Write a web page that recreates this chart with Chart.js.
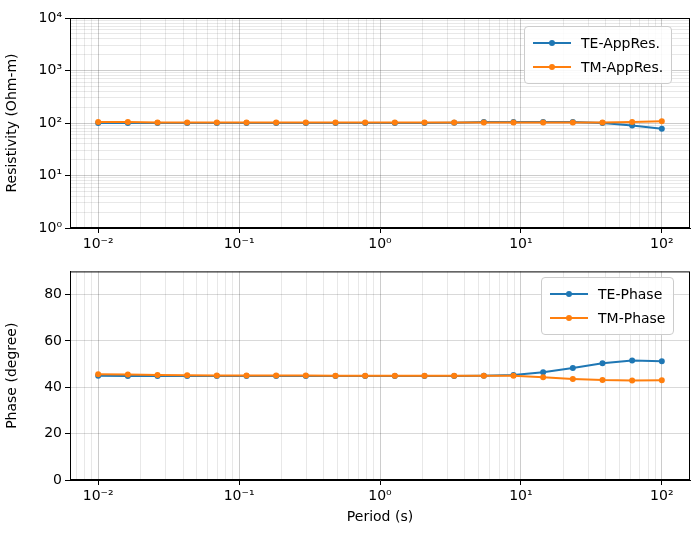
<!DOCTYPE html>
<html><head><meta charset="utf-8">
<script src="https://cdn.jsdelivr.net/npm/chart.js@4/dist/chart.umd.min.js"></script>
<style>
body{margin:0;background:#fff;font-family:"DejaVu Sans",sans-serif;}
.wrap{position:absolute;left:0;width:700px;height:270px;}
.leg{position:absolute;background:rgba(255,255,255,0.85);border:1px solid #ccc;border-radius:4px;padding:4px 8px;font-size:14px;color:#000;}
.leg div{display:flex;align-items:center;height:24px;}
.leg span.l{display:inline-block;width:38px;height:2px;margin-right:10px;position:relative;}
.leg span.l:after{content:"";position:absolute;left:16px;top:-2px;width:6px;height:6px;border-radius:3px;background:inherit;}
</style></head><body>
<div class="wrap" style="top:0"><canvas id="c1"></canvas></div>
<div class="wrap" style="top:260px"><canvas id="c2"></canvas></div>
<div class="leg" style="left:524px;top:26px">
  <div><span class="l" style="background:#1f77b4"></span>TE-AppRes.</div>
  <div><span class="l" style="background:#ff7f0e"></span>TM-AppRes.</div>
</div>
<div class="leg" style="left:541px;top:277px">
  <div><span class="l" style="background:#1f77b4"></span>TE-Phase</div>
  <div><span class="l" style="background:#ff7f0e"></span>TM-Phase</div>
</div>
<script>
const periods = [0.01,0.01624,0.02637,0.04281,0.06952,0.1129,0.1833,0.2976,0.4833,0.7848,1.274,2.069,3.360,5.456,8.859,14.38,23.36,37.93,61.58,100];
const teRes = [100,100,100,100,100,100,100,100,100,100,100,100,101,104,105,105,104,100,90,78];
const tmRes = [105,104,102,102,102,102,102,102,102,102,102,102,102,102,102,102,102,102,104,108];
const tePhase = [45,44.9,44.9,44.9,44.9,44.9,44.9,44.9,44.9,44.9,44.9,44.9,44.9,45,45.3,46.5,48.3,50.4,51.6,51.2];
const tmPhase = [45.6,45.5,45.3,45.2,45.1,45.1,45.1,45.1,45,45,45,45,45,45,45,44.3,43.6,43.1,42.9,43.0];

const sup = {'-':'⁻','0':'⁰','1':'¹','2':'²','3':'³','4':'⁴'};
const pow = v => '10' + String(Math.round(Math.log10(v))).split('').map(c=>sup[c]).join('');
const isMajor = v => Math.abs(Math.log10(v) - Math.round(Math.log10(v))) < 1e-6;
const logTicks = (lo, hi) => { const t=[]; for(let e=lo;e<=hi;e++) for(let m=1;m<10;m++){const v=m*Math.pow(10,e); t.push(v);} return t; };
const font = {family:'DejaVu Sans', size:14};

// box around the plot area, like matplotlib spines
const frame = {id:'frame', afterDraw(chart){
  const a = chart.chartArea, ctx = chart.ctx;
  ctx.save(); ctx.strokeStyle='#000'; ctx.lineWidth=1;
  ctx.strokeRect(a.left+0.5, a.top+0.5, a.right-a.left-1, a.bottom-a.top-1); ctx.restore();
}};

function xAxis(h, title){
  return {type:'logarithmic', min:Math.pow(10,-2.2), max:Math.pow(10,2.2),
    afterBuildTicks: s => { s.ticks = logTicks(-3,2).filter(v=>v>=s.min&&v<=s.max).map(v=>({value:v})); },
    afterFit: s => { s.height = h; },
    ticks:{autoSkip:false, maxRotation:0, color:'#000', font, callback:v=>isMajor(v)?pow(v):''},
    grid:{color:c=>isMajor(c.tick.value)?'rgba(0,0,0,0.2)':'rgba(0,0,0,0.09)', tickColor:c=>isMajor(c.tick.value)?'#000':'rgba(0,0,0,0)', tickLength:5},
    border:{color:'#000'},
    title:{display:!!title, text:title, color:'#000', font, padding:{top:0}}};
}
function ds(label, xs, ys, col, order){
  return {label, order, data:xs.map((x,i)=>({x, y:ys[i]})), borderColor:col, backgroundColor:col, borderWidth:2, pointRadius:2, pointHoverRadius:2, tension:0};
}
const common = {responsive:false, animation:false, plugins:{legend:{display:false}, tooltip:{enabled:false}}};

const cv1 = document.getElementById('c1'); cv1.width=700; cv1.height=270;
new Chart(cv1, {type:'line', plugins:[frame],
  data:{datasets:[ds('TE-AppRes.',periods,teRes,'#1f77b4',2), ds('TM-AppRes.',periods,tmRes,'#ff7f0e',1)]},
  options:{...common, layout:{padding:{top:18,right:10,left:0,bottom:0}},
    scales:{x:xAxis(42,''),
      y:{type:'logarithmic', min:1, max:10000,
        afterBuildTicks: s => { s.ticks = logTicks(0,3).concat([10000]).map(v=>({value:v})); },
        afterFit: s => { s.width = 70; },
        ticks:{autoSkip:false, color:'#000', font, callback:v=>isMajor(v)?pow(v):''},
        grid:{color:c=>isMajor(c.tick.value)?'rgba(0,0,0,0.2)':'rgba(0,0,0,0.09)', tickColor:c=>isMajor(c.tick.value)?'#000':'rgba(0,0,0,0)', tickLength:5},
        border:{color:'#000'},
        title:{display:true, text:'Resistivity (Ohm-m)', color:'#000', font, padding:{bottom:2}}}}}});

const cv2 = document.getElementById('c2'); cv2.width=700; cv2.height=270;
new Chart(cv2, {type:'line', plugins:[frame],
  data:{datasets:[ds('TE-Phase',periods,tePhase,'#1f77b4',2), ds('TM-Phase',periods,tmPhase,'#ff7f0e',1)]},
  options:{...common, layout:{padding:{top:0,right:10,left:0,bottom:0}},
    scales:{x:xAxis(50,'Period (s)'),
      y:{min:0, max:90, afterFit: s => { s.width = 70; },
        afterBuildTicks: s => { s.ticks = [0,20,40,60,80].map(v=>({value:v})); },
        ticks:{color:'#000', font},
        grid:{color:'rgba(0,0,0,0.15)', tickColor:'#000', tickLength:5},
        border:{color:'#000'},
        title:{display:true, text:'Phase (degree)', color:'#000', font, padding:{bottom:2}}}}}});
</script>
</body></html>
